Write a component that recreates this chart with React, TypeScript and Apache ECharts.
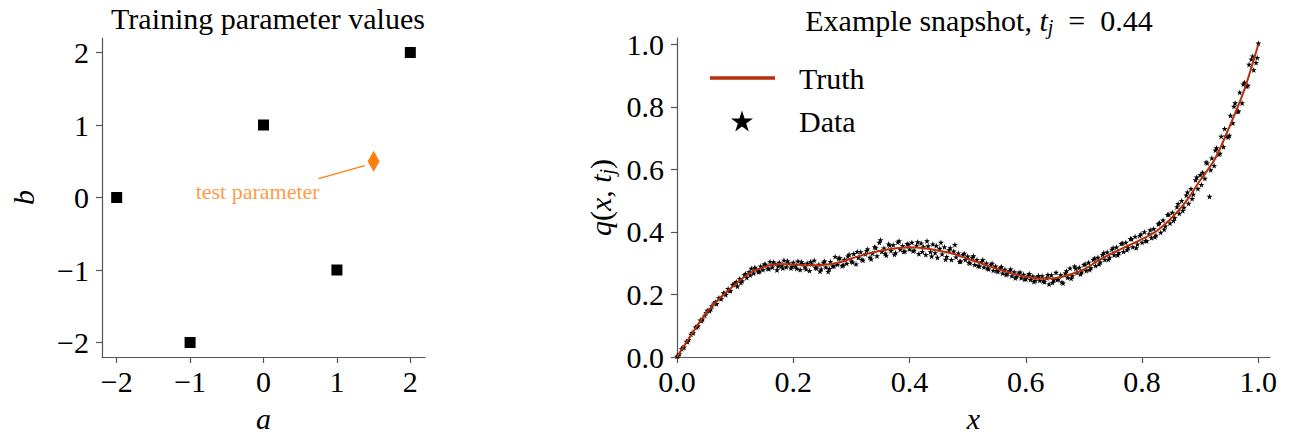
import React, { useEffect, useRef } from "react";
import * as echarts from "echarts";

// ---------- Left panel: training parameters ----------
const trainA = [-2, -1, 0, 1, 2];
const trainB = [0, -2, 1, -1, 2];
const testParam = [1.5, 0.5];
const leftTicks = [-2, -1, 0, 1, 2];

// ---------- Right panel: snapshot ----------
const truthX = [0, 0.025, 0.05, 0.075, 0.1, 0.125, 0.15, 0.175, 0.2, 0.225, 0.25, 0.275, 0.3, 0.325, 0.35, 0.375, 0.4, 0.425, 0.45, 0.475, 0.5, 0.525, 0.55, 0.575, 0.6, 0.625, 0.65, 0.675, 0.7, 0.725, 0.75, 0.775, 0.8, 0.825, 0.85, 0.875, 0.9, 0.925, 0.95, 0.975, 1.0];
const truthY = [0, 0.072, 0.14, 0.19, 0.232, 0.268, 0.288, 0.297, 0.296, 0.293, 0.294, 0.301, 0.315, 0.329, 0.34, 0.347, 0.351, 0.348, 0.34, 0.33, 0.314, 0.298, 0.282, 0.268, 0.257, 0.251, 0.252, 0.263, 0.28, 0.309, 0.333, 0.355, 0.377, 0.403, 0.443, 0.496, 0.565, 0.632, 0.735, 0.85, 1.0];

const dataPointsA: [number, number][] = [
  [0.000, 0.002], [0.004, 0.010], [0.008, 0.026], [0.012, 0.031], [0.016, 0.050], [0.020, 0.055], [0.024, 0.072], [0.028, 0.077], [0.032, 0.095], [0.036, 0.099],
  [0.040, 0.118], [0.044, 0.121], [0.048, 0.133], [0.052, 0.149], [0.056, 0.147], [0.060, 0.163], [0.064, 0.172], [0.068, 0.170], [0.072, 0.189], [0.076, 0.186],
  [0.080, 0.205], [0.084, 0.199], [0.088, 0.218], [0.092, 0.212], [0.096, 0.231], [0.100, 0.236], [0.104, 0.226], [0.108, 0.250], [0.112, 0.243], [0.116, 0.262],
  [0.120, 0.254], [0.124, 0.272], [0.128, 0.283], [0.132, 0.268], [0.136, 0.281], [0.140, 0.272], [0.144, 0.290], [0.148, 0.279], [0.152, 0.296], [0.156, 0.283],
  [0.160, 0.305], [0.164, 0.287], [0.168, 0.299], [0.172, 0.278], [0.176, 0.302], [0.180, 0.291], [0.184, 0.309], [0.188, 0.288], [0.192, 0.300], [0.196, 0.284],
  [0.200, 0.302], [0.204, 0.291], [0.208, 0.306], [0.212, 0.279], [0.216, 0.298], [0.220, 0.287], [0.224, 0.300], [0.228, 0.276], [0.232, 0.297], [0.236, 0.309],
  [0.240, 0.284], [0.244, 0.296], [0.248, 0.281], [0.252, 0.302], [0.256, 0.287], [0.260, 0.273], [0.264, 0.305], [0.268, 0.290], [0.272, 0.321], [0.276, 0.296],
  [0.280, 0.317], [0.284, 0.291], [0.288, 0.312], [0.292, 0.299], [0.296, 0.328], [0.300, 0.306], [0.304, 0.330], [0.308, 0.297], [0.312, 0.318], [0.316, 0.336],
  [0.320, 0.309], [0.324, 0.329], [0.328, 0.345], [0.332, 0.318], [0.336, 0.331], [0.340, 0.352], [0.344, 0.323], [0.348, 0.366], [0.352, 0.337], [0.356, 0.348],
  [0.360, 0.325], [0.364, 0.361], [0.368, 0.340], [0.372, 0.358], [0.376, 0.333], [0.380, 0.367], [0.384, 0.344], [0.388, 0.356], [0.392, 0.338], [0.396, 0.362],
  [0.400, 0.345], [0.404, 0.366], [0.408, 0.341], [0.412, 0.357], [0.416, 0.330], [0.420, 0.364], [0.424, 0.352], [0.428, 0.327], [0.432, 0.355], [0.436, 0.336],
  [0.440, 0.361], [0.444, 0.333], [0.448, 0.318], [0.452, 0.347], [0.456, 0.329], [0.460, 0.352], [0.464, 0.321], [0.468, 0.342], [0.472, 0.311], [0.476, 0.338],
  [0.480, 0.319], [0.484, 0.332], [0.488, 0.306], [0.492, 0.327], [0.496, 0.311], [0.500, 0.322], [0.504, 0.300], [0.508, 0.318], [0.512, 0.295], [0.516, 0.311],
  [0.520, 0.290], [0.524, 0.305], [0.528, 0.287], [0.532, 0.300], [0.536, 0.281], [0.540, 0.296], [0.544, 0.277], [0.548, 0.290], [0.552, 0.273], [0.556, 0.285],
  [0.560, 0.268], [0.564, 0.280], [0.568, 0.266], [0.572, 0.276], [0.576, 0.259], [0.580, 0.272], [0.584, 0.257], [0.588, 0.268], [0.592, 0.253], [0.596, 0.264],
  [0.600, 0.250], [0.604, 0.261], [0.608, 0.247], [0.612, 0.258], [0.616, 0.244], [0.620, 0.256], [0.624, 0.245], [0.628, 0.259], [0.632, 0.240], [0.636, 0.253],
  [0.640, 0.233], [0.644, 0.262], [0.648, 0.246], [0.652, 0.270], [0.656, 0.249], [0.660, 0.262], [0.664, 0.236], [0.668, 0.268], [0.672, 0.254], [0.676, 0.284],
  [0.680, 0.259], [0.684, 0.290], [0.688, 0.270], [0.692, 0.286], [0.696, 0.271], [0.700, 0.295], [0.704, 0.276], [0.708, 0.302], [0.712, 0.285], [0.716, 0.311],
  [0.720, 0.292], [0.724, 0.318], [0.728, 0.303], [0.732, 0.327], [0.736, 0.311], [0.740, 0.335], [0.744, 0.318], [0.748, 0.344], [0.752, 0.326], [0.756, 0.351],
  [0.760, 0.333], [0.764, 0.362], [0.768, 0.337], [0.772, 0.366], [0.776, 0.349], [0.780, 0.378], [0.784, 0.352], [0.788, 0.385], [0.792, 0.361], [0.796, 0.388],
  [0.800, 0.366], [0.804, 0.400], [0.808, 0.371], [0.812, 0.393], [0.816, 0.381], [0.820, 0.410], [0.824, 0.389], [0.828, 0.425], [0.832, 0.398], [0.836, 0.437],
  [0.840, 0.418], [0.844, 0.455], [0.848, 0.428], [0.852, 0.462], [0.856, 0.445], [0.860, 0.480], [0.864, 0.459], [0.868, 0.500], [0.872, 0.478], [0.876, 0.517],
  [0.880, 0.491], [0.884, 0.538], [0.888, 0.520], [0.892, 0.566], [0.896, 0.538], [0.900, 0.582], [0.904, 0.590], [0.908, 0.571], [0.912, 0.620], [0.916, 0.513],
  [0.920, 0.636], [0.924, 0.612], [0.928, 0.668], [0.932, 0.648], [0.936, 0.705], [0.940, 0.672], [0.944, 0.706], [0.948, 0.703], [0.952, 0.772], [0.956, 0.748],
  [0.960, 0.812], [0.964, 0.785], [0.968, 0.846], [0.972, 0.812], [0.976, 0.878], [0.980, 0.865], [0.984, 0.935], [0.988, 0.952], [0.992, 0.918], [0.996, 0.941],
  [1.000, 1.003],
];
const dataPointsB: [number, number][] = [
  [0.002, 0.004], [0.010, 0.030], [0.018, 0.049], [0.026, 0.078], [0.034, 0.096], [0.042, 0.116], [0.050, 0.142], [0.058, 0.153], [0.066, 0.176], [0.074, 0.188],
  [0.082, 0.203], [0.090, 0.213], [0.098, 0.232], [0.102, 0.241], [0.110, 0.238], [0.118, 0.266], [0.126, 0.262], [0.134, 0.286], [0.142, 0.274], [0.150, 0.297],
  [0.158, 0.282], [0.166, 0.303], [0.174, 0.290], [0.182, 0.284], [0.190, 0.307], [0.198, 0.289], [0.206, 0.283], [0.214, 0.304], [0.222, 0.281], [0.230, 0.305],
  [0.238, 0.286], [0.246, 0.274], [0.254, 0.306], [0.262, 0.282], [0.270, 0.291], [0.278, 0.315], [0.286, 0.294], [0.294, 0.322], [0.302, 0.303], [0.310, 0.337],
  [0.318, 0.312], [0.326, 0.340], [0.334, 0.313], [0.342, 0.349], [0.350, 0.374], [0.358, 0.331], [0.366, 0.357], [0.374, 0.328], [0.382, 0.371], [0.390, 0.337],
  [0.398, 0.360], [0.406, 0.339], [0.414, 0.368], [0.422, 0.337], [0.430, 0.371], [0.438, 0.322], [0.446, 0.356], [0.454, 0.366], [0.462, 0.312], [0.470, 0.349],
  [0.478, 0.359], [0.486, 0.305], [0.494, 0.331], [0.502, 0.302], [0.510, 0.323], [0.518, 0.292], [0.526, 0.311], [0.534, 0.284], [0.542, 0.299], [0.550, 0.276],
  [0.558, 0.289], [0.566, 0.263], [0.574, 0.281], [0.582, 0.253], [0.590, 0.271], [0.598, 0.249], [0.606, 0.266], [0.614, 0.241], [0.622, 0.260], [0.630, 0.243],
  [0.638, 0.263], [0.646, 0.238], [0.654, 0.247], [0.662, 0.239], [0.670, 0.275], [0.678, 0.251], [0.686, 0.283], [0.694, 0.265], [0.702, 0.297], [0.710, 0.279],
  [0.718, 0.316], [0.726, 0.297], [0.734, 0.333], [0.742, 0.312], [0.750, 0.349], [0.758, 0.326], [0.766, 0.364], [0.774, 0.342], [0.782, 0.377], [0.790, 0.349],
  [0.798, 0.393], [0.806, 0.372], [0.814, 0.406], [0.822, 0.384], [0.830, 0.429], [0.838, 0.408], [0.846, 0.456], [0.854, 0.436], [0.862, 0.490], [0.870, 0.468],
  [0.878, 0.527], [0.886, 0.506], [0.894, 0.575], [0.902, 0.551], [0.910, 0.623], [0.918, 0.598], [0.926, 0.661], [0.934, 0.651], [0.942, 0.730], [0.950, 0.708],
  [0.958, 0.801], [0.966, 0.786], [0.974, 0.872], [0.982, 0.868], [0.990, 0.962], [0.998, 0.957],
];
const rightTicks = [0, 0.2, 0.4, 0.6, 0.8, 1.0];

const FONT = "'Liberation Serif', 'DejaVu Serif', serif";
const FS = 30;
const AXIS_COLOR = "#555";
const TRUTH_COLOR = "#b5300b";
const TEST_COLOR = "#ff7f0e";
const STAR = "path://M50,0 L61.2,34.5 L97.6,34.5 L68.2,55.9 L79.4,90.5 L50,69.1 L20.6,90.5 L31.8,55.9 L2.4,34.5 L38.8,34.5 Z";

const fmtSigned = (v: number) => (v < 0 ? "\u2212" + Math.abs(v) : String(v));

const richMath = {
  i: { fontFamily: FONT, fontSize: FS, fontStyle: "italic", color: "#000" },
  sub: { fontFamily: FONT, fontSize: 20, fontStyle: "italic", color: "#000", padding: [14, 0, 0, 0] },
};

function tickStyle(values: number[]) {
  return { show: true, length: 6, customValues: values, lineStyle: { color: AXIS_COLOR, width: 1.2 } };
}

function baseAxis(extra: any) {
  return {
    axisLine: { show: true, onZero: false, lineStyle: { color: AXIS_COLOR, width: 1.2 } },
    splitLine: { show: false },
    nameLocation: "middle",
    nameTextStyle: { fontFamily: FONT, fontSize: FS, fontStyle: "italic", color: "#000" },
    ...extra,
  };
}

export default function App() {
  const ref = useRef<HTMLDivElement>(null);
  useEffect(() => {
    document.body.style.margin = "0";
    if (!ref.current) return;
    const chart = echarts.init(ref.current, null, { renderer: "svg" });
    const option: any = {
      animation: false,
      backgroundColor: "#fff",
      textStyle: { fontFamily: FONT },
      title: [
        {
          text: "Training parameter values",
          left: 263,
          top: -2,
          textAlign: "center",
          textStyle: { fontFamily: FONT, fontSize: FS, fontWeight: "normal", color: "#000" },
        },
        {
          text: "Example snapshot, {i|t}{sub|j}  =  0.44",
          left: 974,
          top: -2,
          textAlign: "center",
          textStyle: { fontFamily: FONT, fontSize: FS, fontWeight: "normal", color: "#000", rich: richMath },
        },
      ],
      legend: [
        {
          data: ["Truth"],
          left: 705,
          top: 57,
          itemWidth: 65,
          itemHeight: 3.5,
          icon: "rect",
          textStyle: { fontFamily: FONT, fontSize: FS, color: "#000", lineHeight: 32, padding: [0, 0, 0, 19] },
        },
        {
          data: ["Data"],
          left: 726,
          top: 100,
          itemWidth: 22,
          itemHeight: 22,
          icon: STAR,
          itemStyle: { opacity: 1 },
          textStyle: { fontFamily: FONT, fontSize: FS, color: "#000", lineHeight: 32, padding: [0, 0, 0, 41] },
        },
      ],
      grid: [
        { left: 102, top: 38, width: 323, height: 323 },
        { left: 677, top: 38, width: 593, height: 324 },
      ],
      xAxis: [
        baseAxis({
          gridIndex: 0,
          type: "value",
          min: -2.2,
          max: 2.2,
          name: "a",
          nameGap: 46,
          axisTick: tickStyle(leftTicks),
          axisLabel: { customValues: leftTicks, formatter: fmtSigned, fontFamily: FONT, fontSize: FS, color: "#000", margin: 9 },
        }),
        baseAxis({
          gridIndex: 1,
          type: "value",
          min: 0,
          max: 1.02,
          name: "x",
          nameGap: 46,
          axisTick: tickStyle(rightTicks),
          axisLabel: { customValues: rightTicks, formatter: (v: number) => v.toFixed(1), fontFamily: FONT, fontSize: FS, color: "#000", margin: 9 },
        }),
      ],
      yAxis: [
        baseAxis({
          gridIndex: 0,
          type: "value",
          min: -2.2,
          max: 2.2,
          name: "b",
          nameGap: 64,
          nameRotate: 90,
          axisTick: tickStyle(leftTicks),
          axisLabel: { customValues: leftTicks, formatter: fmtSigned, fontFamily: FONT, fontSize: FS, color: "#000", margin: 13 },
        }),
        baseAxis({
          gridIndex: 1,
          type: "value",
          min: 0,
          max: 1.02,
          name: "{i|q}({i|x}, {i|t}{sub|j})",
          nameGap: 60,
          nameRotate: 90,
          nameTextStyle: { fontFamily: FONT, fontSize: FS, color: "#000", rich: richMath },
          axisTick: tickStyle(rightTicks),
          axisLabel: { customValues: rightTicks, formatter: (v: number) => v.toFixed(1), fontFamily: FONT, fontSize: FS, color: "#000", margin: 13 },
        }),
      ],
      series: [
        {
          name: "Training",
          type: "scatter",
          xAxisIndex: 0,
          yAxisIndex: 0,
          symbol: "rect",
          symbolSize: 11,
          itemStyle: { color: "#000", opacity: 1 },
          data: trainA.map((a, i) => [a, trainB[i]]),
          z: 3,
        },
        {
          name: "test parameter",
          type: "scatter",
          xAxisIndex: 0,
          yAxisIndex: 0,
          symbol: "diamond",
          symbolSize: [12, 21],
          itemStyle: { color: TEST_COLOR, opacity: 1 },
          data: [testParam],
          markLine: {
            silent: true,
            symbol: "none",
            label: { show: false },
            lineStyle: { color: TEST_COLOR, width: 1.3, type: "solid" },
            data: [[{ coord: [0.75, 0.26] }, { coord: [1.38, 0.44] }]],
          },
          z: 4,
        },
        {
          name: "annotation",
          type: "scatter",
          xAxisIndex: 0,
          yAxisIndex: 0,
          symbolSize: 0,
          data: [[-0.08, 0.08]],
          label: {
            show: true,
            position: "inside",
            formatter: "test parameter",
            fontFamily: FONT,
            fontSize: 22,
            color: TEST_COLOR,
          },
          silent: true,
        },
        {
          name: "Data",
          type: "scatter",
          xAxisIndex: 1,
          yAxisIndex: 1,
          symbol: STAR,
          symbolSize: 6,
          itemStyle: { color: "#000", opacity: 1 },
          data: [...dataPointsA, ...dataPointsB],
          z: 2,
        },
        {
          name: "Truth",
          type: "line",
          xAxisIndex: 1,
          yAxisIndex: 1,
          showSymbol: false,
          smooth: 0.3,
          lineStyle: { color: TRUTH_COLOR, width: 2 },
          itemStyle: { color: TRUTH_COLOR },
          data: truthX.map((x, i) => [x, truthY[i]]),
          z: 3,
        },
      ],
    };
    chart.setOption(option);
    return () => chart.dispose();
  }, []);
  return <div ref={ref} style={{ width: 1293, height: 438 }} />;
}
